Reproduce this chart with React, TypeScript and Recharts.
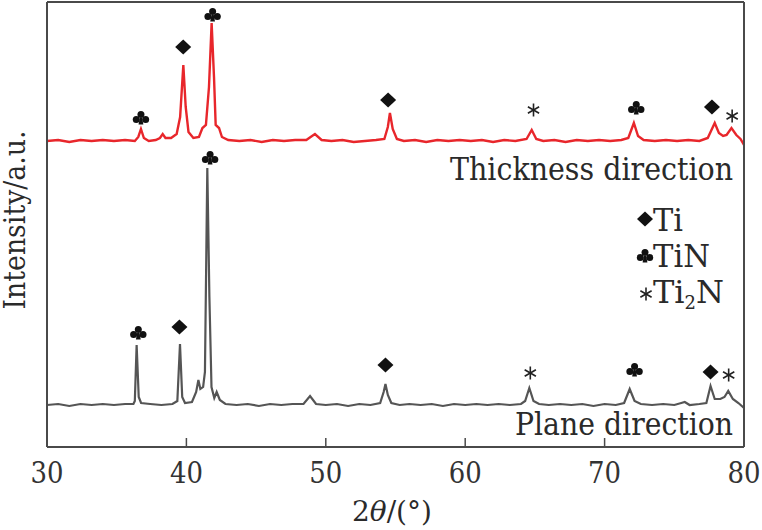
import React from 'react';
import {
  ComposedChart,
  Line,
  Scatter,
  XAxis,
  YAxis,
  ReferenceLine,
  Customized,
} from 'recharts';

// 2θ (deg) vs intensity (a.u.)
const thicknessX = [30, 30.8, 31.6, 32.4, 33.2, 34, 34.8, 35.6, 36.3, 36.55, 36.74, 36.95, 37.3, 37.8, 38.1, 38.3, 38.5, 38.9, 39.3, 39.55, 39.78, 39.95, 40.15, 40.5, 40.9, 41.15, 41.4, 41.62, 41.81, 41.98, 42.1, 42.34, 42.55, 43, 43.8, 44.6, 45.4, 46.2, 47, 47.8, 48.6, 49.22, 49.7, 50.4, 51.2, 52, 52.8, 53.6, 54.2, 54.45, 54.6, 54.8, 55.1, 55.6, 56.4, 57.2, 58, 58.8, 59.6, 60.4, 61.2, 62, 62.8, 63.6, 64.4, 64.77, 65.1, 65.6, 66.4, 67.2, 68, 68.8, 69.6, 70.4, 71.2, 71.7, 72.1, 72.4, 72.8, 73.6, 74.4, 75.2, 76, 76.8, 77.4, 77.9, 78.2, 78.5, 78.75, 79.1, 79.45, 79.75, 80];
const thicknessY = [306, 307, 305, 307, 306, 307, 306, 307, 306, 310, 318, 309, 306, 307, 309, 313, 309, 309, 313, 330, 382, 340, 315, 309, 310, 319, 322, 360, 424, 370, 322, 319, 310, 307, 306, 307, 305, 307, 306, 307, 307, 313, 307, 306, 307, 305, 306, 307, 308, 320, 334, 318, 308, 306, 307, 305, 307, 306, 307, 306, 307, 305, 307, 306, 308, 317, 308, 306, 307, 305, 307, 306, 307, 306, 307, 309, 324, 311, 307, 306, 307, 306, 307, 306, 309, 324, 314, 311, 312, 319, 312, 308, 302];

const planeX = [30, 30.8, 31.6, 32.4, 33.2, 34, 34.8, 35.6, 36.2, 36.3, 36.43, 36.58, 36.75, 37.4, 38.2, 39, 39.35, 39.54, 39.7, 39.9, 40.4, 40.7, 40.86, 41.0, 41.2, 41.33, 41.5, 41.65, 41.8, 42.0, 42.17, 42.4, 42.8, 43.6, 44.4, 45.2, 46, 46.8, 47.6, 48.4, 48.87, 49.3, 50, 50.8, 51.6, 52.4, 53.2, 53.9, 54.15, 54.28, 54.45, 54.7, 55.3, 56, 56.8, 57.6, 58.4, 59.2, 60, 60.8, 61.6, 62.4, 63.2, 64, 64.3, 64.6, 64.9, 65.3, 66, 66.8, 67.6, 68.4, 69.2, 70, 70.8, 71.4, 71.8, 72.15, 72.6, 73.4, 74.2, 75, 75.5, 75.75, 76.1, 76.8, 77.3, 77.6, 77.9, 78.3, 78.6, 78.87, 79.2, 79.6, 80];
const planeY = [42, 43, 41, 43, 42, 43, 42, 43, 43, 46, 102, 50, 44, 43, 42, 43, 46, 103, 50, 44, 45, 55, 67, 58, 60, 75, 279, 150, 60, 49, 55, 47, 43, 42, 43, 41, 43, 42, 43, 43, 51, 43, 42, 43, 41, 43, 42, 44, 55, 63, 52, 44, 42, 43, 42, 43, 41, 43, 42, 43, 42, 43, 42, 43, 46, 59, 46, 43, 42, 43, 42, 43, 41, 43, 42, 44, 58, 46, 43, 42, 43, 42, 44, 45, 42, 43, 44, 61, 48, 48, 50, 56, 48, 44, 39];

// phase markers: position (2θ, a.u.) and phase
const markerX = [36.74, 39.77, 41.88, 54.47, 64.9, 72.27, 77.7, 79.15, 41.7, 36.55, 39.5, 54.28, 64.67, 72.15, 77.6, 78.9];
const markerY = [329, 400, 432, 347, 337, 339, 340, 331, 289, 114, 120, 82, 74, 77, 75, 72];
const markerPhase = ['TiN', 'Ti', 'TiN', 'Ti', 'Ti2N', 'TiN', 'Ti', 'Ti2N', 'TiN', 'TiN', 'Ti', 'Ti', 'Ti2N', 'TiN', 'Ti', 'Ti2N'];

const xTicks = [30, 40, 50, 60, 70, 80];

const lineData = thicknessX.map((x, i) => ({ x, thickness: thicknessY[i] }));
const planeData = planeX.map((x, i) => ({ x, plane: planeY[i] }));
const markerData = markerX.map((x, i) => ({ x, y: markerY[i], phase: markerPhase[i] }));

const FRAME = '#4a4a4a';
const SERIF = 'DejaVu Serif';

const Glyph = ({ cx, cy, phase }: { cx: number; cy: number; phase: string }) => {
  if (phase === 'Ti') {
    return <polygon points={`${cx},${cy - 7.5} ${cx + 8},${cy} ${cx},${cy + 7.5} ${cx - 8},${cy}`} fill="#111" />;
  }
  if (phase === 'TiN') {
    return (
      <g fill="#111">
        <circle cx={cx} cy={cy - 3.4} r={3.5} />
        <circle cx={cx - 4.7} cy={cy + 1.4} r={3.5} />
        <circle cx={cx + 4.7} cy={cy + 1.4} r={3.5} />
        <polygon points={`${cx - 1.2},${cy} ${cx + 1.2},${cy} ${cx + 2.4},${cy + 6.5} ${cx - 2.4},${cy + 6.5}`} />
      </g>
    );
  }
  const r = 6.5;
  const lines = [90, 30, -30].map((a) => {
    const rad = (a * Math.PI) / 180;
    const dx = r * Math.cos(rad);
    const dy = r * Math.sin(rad);
    return <line key={a} x1={cx - dx} y1={cy - dy} x2={cx + dx} y2={cy + dy} stroke="#222" strokeWidth={1.6} />;
  });
  return <g>{lines}</g>;
};

const MarkerShape = (props: any) => {
  const { cx, cy, payload } = props;
  return <Glyph cx={cx} cy={cy} phase={payload.phase} />;
};

const XTick = (props: any) => {
  const { x, payload } = props;
  return (
    <text x={x} y={483} textAnchor="middle" fontFamily={SERIF} fontSize={29} fill="#333" textLength={33} lengthAdjust="spacingAndGlyphs">
      {payload.value}
    </text>
  );
};

const Annotations = () => (
  <g fill="#2a2a2a" fontFamily={SERIF}>
    <text x={450} y={180} fontSize={31} textLength={283} lengthAdjust="spacingAndGlyphs">Thickness direction</text>
    <text x={515} y={435} fontSize={31} textLength={218} lengthAdjust="spacingAndGlyphs">Plane direction</text>
    <Glyph cx={645} cy={219} phase="Ti" />
    <text x={653} y={231} fontSize={32} textLength={30} lengthAdjust="spacingAndGlyphs">Ti</text>
    <Glyph cx={645} cy={256} phase="TiN" />
    <text x={653} y={267} fontSize={32} textLength={57} lengthAdjust="spacingAndGlyphs">TiN</text>
    <Glyph cx={646} cy={294} phase="Ti2N" />
    <text x={653} y={303} fontSize={32}>
      Ti<tspan fontSize={18} dy={6}>2</tspan><tspan dy={-6}>N</tspan>
    </text>
    <text x={352} y={521} fontSize={28} textLength={80} lengthAdjust="spacingAndGlyphs">
      2<tspan fontStyle="italic">θ</tspan>/(°)
    </text>
    <text x={220} y={0} textAnchor="middle" transform="translate(25 440) rotate(-90)" fontSize={29} textLength={179} lengthAdjust="spacingAndGlyphs">
      Intensity/a.u.
    </text>
  </g>
);

export default function App() {
  return (
    <div style={{ position: 'absolute', left: 0, top: 0, width: 762, height: 530, background: '#fff' }}>
      <ComposedChart width={762} height={530} margin={{ top: 2, right: 18, bottom: 0, left: 47 }}>
        <XAxis
          type="number"
          dataKey="x"
          domain={[30, 80]}
          ticks={xTicks}
          allowDataOverflow
          height={83}
          axisLine={false}
          tickLine={false}
          tick={<XTick />}
          interval={0}
        />
        <YAxis type="number" domain={[0, 445]} hide allowDataOverflow />
        {xTicks.map((t) => (
          <ReferenceLine key={t} segment={[{ x: t, y: 0 }, { x: t, y: 9 }]} stroke={FRAME} strokeWidth={1.5} />
        ))}
        <Line data={planeData} dataKey="plane" type="linear" stroke="#555" strokeWidth={2.2} dot={false} isAnimationActive={false} />
        <Line data={lineData} dataKey="thickness" type="linear" stroke="#e8262b" strokeWidth={2.4} dot={false} isAnimationActive={false} />
        <Scatter data={markerData} dataKey="y" shape={<MarkerShape />} isAnimationActive={false} />
        <ReferenceLine y={0} stroke={FRAME} strokeWidth={2} />
        <ReferenceLine y={445} stroke={FRAME} strokeWidth={2} />
        <ReferenceLine x={30} stroke={FRAME} strokeWidth={2} />
        <ReferenceLine x={80} stroke={FRAME} strokeWidth={2} />
        <Customized component={Annotations} />
      </ComposedChart>
    </div>
  );
}
